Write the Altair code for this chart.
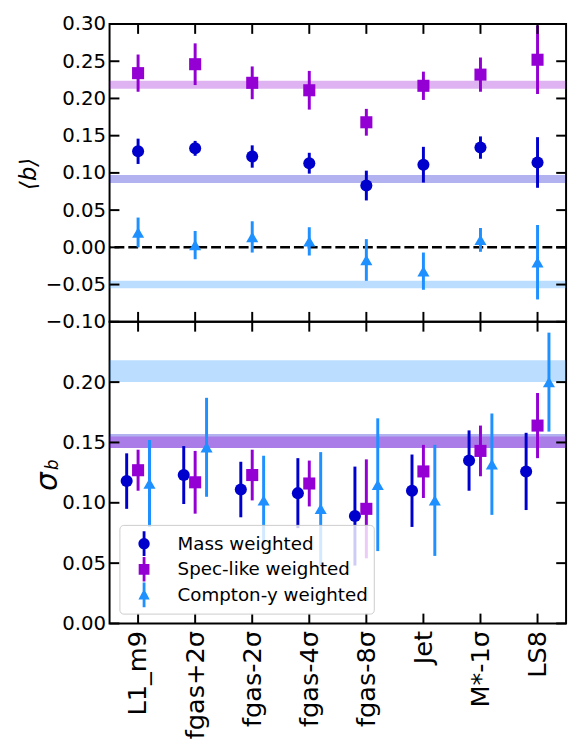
import json
import altair as alt
import pandas as pd

categories = ["L1_m9", "fgas+2σ", "fgas-2σ", "fgas-4σ", "fgas-8σ", "Jet", "M*-1σ", "LS8"]
series = ["Mass weighted", "Spec-like weighted", "Compton-y weighted"]
colors = ["#0000CD", "#9400D3", "#1E90FF"]

# top panel: <b>
b_mass = [0.129, 0.133, 0.122, 0.113, 0.083, 0.111, 0.134, 0.114]
b_mass_err = [0.017, 0.010, 0.015, 0.014, 0.020, 0.024, 0.015, 0.034]
b_spec = [0.234, 0.246, 0.221, 0.211, 0.168, 0.217, 0.232, 0.252]
b_spec_err = [0.025, 0.028, 0.022, 0.026, 0.018, 0.019, 0.023, 0.046]
b_comp = [0.020, 0.003, 0.014, 0.008, -0.017, -0.032, 0.010, -0.020]
b_comp_err = [0.020, 0.019, 0.021, 0.019, 0.028, 0.025, 0.016, 0.050]

# bottom panel: sigma_b
s_mass = [0.118, 0.123, 0.111, 0.108, 0.089, 0.110, 0.135, 0.126]
s_mass_err = [0.023, 0.024, 0.023, 0.029, 0.041, 0.030, 0.025, 0.032]
s_spec = [0.127, 0.117, 0.123, 0.116, 0.095, 0.126, 0.143, 0.164]
s_spec_err = [0.017, 0.026, 0.021, 0.019, 0.041, 0.022, 0.021, 0.027]
s_comp = [0.116, 0.146, 0.102, 0.095, 0.115, 0.102, 0.132, 0.200]
s_comp_err = [0.036, 0.041, 0.037, 0.047, 0.055, 0.046, 0.042, 0.041]

# reference bands (mass, spec, compton)
band_b_lo = [0.0865, 0.2131, -0.0551]
band_b_hi = [0.0971, 0.2237, -0.0450]
band_s_lo = [0.1455, 0.1455, 0.2000]
band_s_hi = [0.1570, 0.1550, 0.2182]

top_offsets = [0.0, 0.0, 0.0]
bottom_offsets = [-0.2, 0.0, 0.2]

top_ticks = [-0.10, -0.05, 0.00, 0.05, 0.10, 0.15, 0.20, 0.25, 0.30]
bottom_ticks = [0.00, 0.05, 0.10, 0.15, 0.20]
x_ticks = list(range(len(categories)))


def make_df(vals, errs, offsets):
    rows = []
    for s, v, e, o in zip(series, vals, errs, offsets):
        for i, (vv, ee) in enumerate(zip(v, e)):
            rows.append({"series": s, "x": i + o, "y": vv, "lo": vv - ee, "hi": vv + ee})
    return pd.DataFrame(rows)


top_df = make_df([b_mass, b_spec, b_comp], [b_mass_err, b_spec_err, b_comp_err], top_offsets)
bot_df = make_df([s_mass, s_spec, s_comp], [s_mass_err, s_spec_err, s_comp_err], bottom_offsets)
top_bands = pd.DataFrame({"series": series, "lo": band_b_lo, "hi": band_b_hi})
bot_bands = pd.DataFrame({"series": series, "lo": band_s_lo, "hi": band_s_hi})

W = 463
TL = 10  # inward tick length
FONT = "DejaVu Sans"

xscale = alt.Scale(domain=[-0.5, 7.5], nice=False, zero=False)
label_expr = json.dumps(categories) + "[round(datum.value)]"


def color_enc(legend=None):
    return alt.Color("series:N", scale=alt.Scale(domain=series, range=colors), legend=legend)


def inward_ticks(ys, yticks, height):
    ydf = pd.DataFrame({"v": yticks})
    xdf = pd.DataFrame({"v": x_ticks})
    rule = dict(color="black", strokeWidth=2)
    return [
        alt.Chart(ydf).mark_rule(**rule).encode(
            x=alt.value(0), x2=alt.value(TL), y=alt.Y("v:Q", scale=ys, axis=None)),
        alt.Chart(ydf).mark_rule(**rule).encode(
            x=alt.value(W - TL), x2=alt.value(W), y=alt.Y("v:Q", scale=ys, axis=None)),
        alt.Chart(xdf).mark_rule(**rule).encode(
            y=alt.value(0), y2=alt.value(TL), x=alt.X("v:Q", scale=xscale, axis=None)),
        alt.Chart(xdf).mark_rule(**rule).encode(
            y=alt.value(height - TL), y2=alt.value(height), x=alt.X("v:Q", scale=xscale, axis=None)),
    ]


def panel(df, bands, ydom, yticks, height, bottom, zero_line):
    ys = alt.Scale(domain=ydom, nice=False, zero=False)
    if bottom:
        x_axis = alt.Axis(orient="bottom", values=x_ticks, labelExpr=label_expr,
                          labelAngle=270, labelFontSize=26, labelPadding=7,
                          labelColor="black", labelOverlap=False, labelFont=FONT,
                          ticks=False, domain=False, grid=False, title=None, zindex=1)
    else:
        x_axis = None
    y_axis = alt.Axis(orient="left", values=yticks, format=".2f", labelFontSize=20,
                      labelPadding=4, labelColor="black", labelFont=FONT, ticks=False,
                      domain=False, grid=False, title=None, zindex=1)

    band = alt.Chart(bands).mark_rect(opacity=0.3).encode(
        y=alt.Y("lo:Q", scale=ys, axis=None), y2="hi:Q", color=color_enc())
    err = alt.Chart(df).mark_rule(strokeWidth=3).encode(
        x=alt.X("x:Q", scale=xscale, axis=x_axis),
        y=alt.Y("lo:Q", scale=ys, axis=y_axis), y2="hi:Q", color=color_enc())
    pts = alt.Chart(df).mark_point(filled=True, opacity=1, size=150).encode(
        x=alt.X("x:Q", scale=xscale, axis=None),
        y=alt.Y("y:Q", scale=ys, axis=None),
        color=color_enc(),
        shape=alt.Shape("series:N", scale=alt.Scale(domain=series,
                        range=["circle", "square", "triangle-up"]), legend=None))
    layers = [band]
    if zero_line:
        layers.append(alt.Chart(pd.DataFrame({"z": [0.0]})).mark_rule(
            color="black", strokeWidth=2.5, strokeDash=[10, 4]).encode(
            y=alt.Y("z:Q", scale=ys, axis=None)))
    layers += [err, pts] + inward_ticks(ys, yticks, height)
    return layers, ys


# ---- top panel ----
H_TOP, H_BOT = 302, 306
top_layers, ys_top = panel(top_df, top_bands, [-0.10, 0.30], top_ticks, H_TOP, False, True)
top_title = alt.Chart(pd.DataFrame({"t": ["⟨b⟩"]})).mark_text(
    angle=270, fontSize=23, fontStyle="italic", font=FONT, color="black",
    align="center", baseline="middle").encode(
    x=alt.value(-82), y=alt.value(152), text="t:N")
top = alt.layer(*top_layers, top_title).resolve_axis(
    x="independent", y="independent").properties(width=W, height=H_TOP)

# ---- bottom panel ----
bot_layers, ys_bot = panel(bot_df, bot_bands, [0.0, 0.25], bottom_ticks, H_BOT, True, False)

bar = "M-0.11,-0.96L0.11,-0.96L0.11,0.96L-0.11,0.96Z"
leg_shapes = [
    bar + "M0.44,0A0.44,0.44,0,1,1,-0.44,0A0.44,0.44,0,1,1,0.44,0Z",
    bar + "M-0.42,-0.42L0.42,-0.42L0.42,0.42L-0.42,0.42Z",
    bar + "M0,-0.48L0.44,0.36L-0.44,0.36Z",
]
legend = alt.Legend(title=None, orient="bottom-left", offset=10, labelFontSize=18.5,
                    labelFont=FONT, labelColor="black", labelLimit=400, symbolSize=676,
                    symbolStrokeWidth=0, symbolOffset=6, labelOffset=21, padding=6,
                    rowPadding=0, fillColor="rgba(255,255,255,0.8)", strokeColor="#cccccc",
                    cornerRadius=4, symbolOpacity=1)
leg_layer = alt.Chart(bot_df).transform_filter("false").mark_point(filled=True).encode(
    x=alt.X("x:Q", scale=xscale, axis=None),
    y=alt.Y("y:Q", scale=ys_bot, axis=None),
    color=alt.Color("series:N", scale=alt.Scale(domain=series, range=colors), legend=legend),
    shape=alt.Shape("series:N", scale=alt.Scale(domain=series, range=leg_shapes), legend=legend),
)
sig = alt.Chart(pd.DataFrame({"t": ["σ"]})).mark_text(
    angle=270, fontSize=30, fontStyle="italic", font=FONT, color="black",
    align="center", baseline="middle").encode(x=alt.value(-62), y=alt.value(162), text="t:N")
sub = alt.Chart(pd.DataFrame({"t": ["b"]})).mark_text(
    angle=270, fontSize=17, fontStyle="italic", font=FONT, color="black",
    align="center", baseline="middle").encode(x=alt.value(-57), y=alt.value(145), text="t:N")

bottom = alt.layer(*bot_layers, leg_layer, sig, sub).resolve_axis(
    x="independent", y="independent").resolve_scale(
    shape="independent", color="independent").properties(width=W, height=H_BOT)

chart = alt.vconcat(top, bottom, spacing=0, bounds="flush").properties(
    padding={"left": 9, "top": 0, "right": 2, "bottom": 0}
).configure(font=FONT).configure_view(stroke="black", strokeWidth=2)

chart.save("out.html", embed_options={"renderer": "svg", "actions": False})
